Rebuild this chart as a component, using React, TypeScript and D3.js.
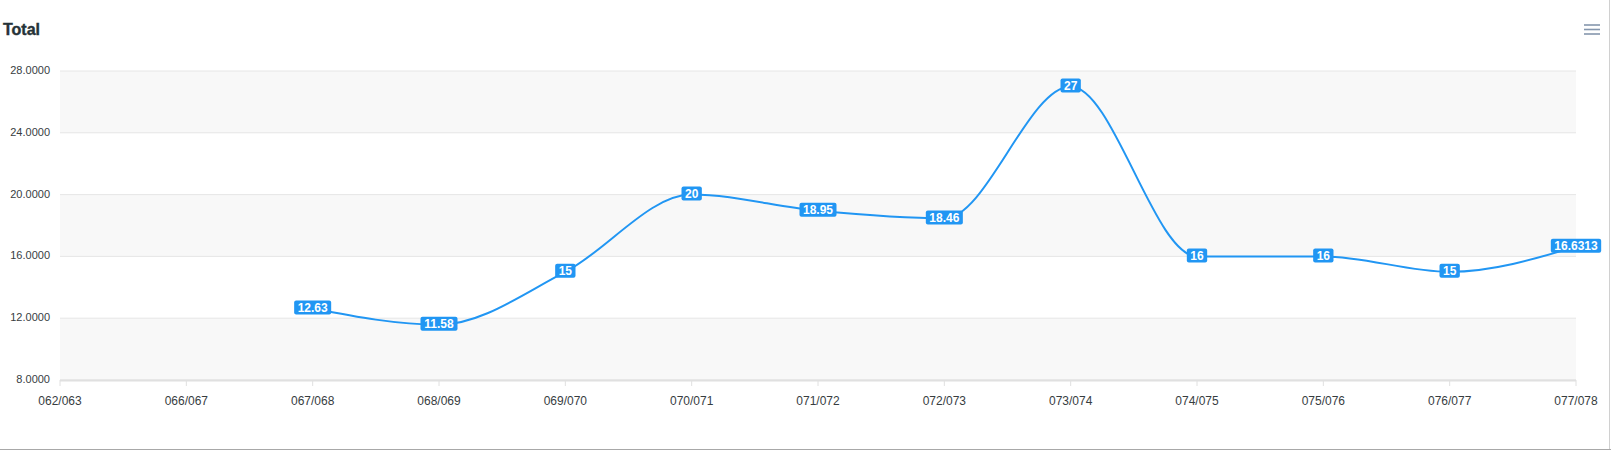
import React from "react";
import * as d3 from "d3";

const categories = ["062/063","066/067","067/068","068/069","069/070","070/071","071/072","072/073","073/074","074/075","075/076","076/077","077/078"];
const values: (number | null)[] = [null, null, 12.63, 11.58, 15, 20, 18.95, 18.46, 27, 16, 16, 15, 16.6313];
const labels = ["", "", "12.63", "11.58", "15", "20", "18.95", "18.46", "27", "16", "16", "15", "16.6313"];
const yTicks = [8, 12, 16, 20, 24, 28];
const title = "Total";

const W = 1611, H = 450;
const left = 60, right = 1576, top = 71, bottom = 380;
const blue = "#2196F3";
const font = "'Liberation Sans', Arial, Helvetica, sans-serif";

function textWidth(t: string, size: number) {
  let w = 0;
  for (const c of t) w += c === "." ? 0.278 : 0.556;
  return w * size;
}

export default function App() {
  const x = d3.scalePoint<string>().domain(categories).range([left, right]);
  const y = d3.scaleLinear().domain([8, 28]).range([bottom, top]);
  const pts = categories.map((c, i) => ({ c, v: values[i], l: labels[i] }));
  const line = d3.line<any>()
    .defined((d) => d.v !== null)
    .x((d) => x(d.c)!)
    .y((d) => y(d.v))
    .curve(d3.curveMonotoneX);
  const bands = [] as JSX.Element[];
  for (let i = 0; i < yTicks.length - 1; i++) {
    const lo = yTicks[i], hi = yTicks[i + 1];
    const idxFromTop = yTicks.length - 2 - i;
    if (idxFromTop % 2 === 0) {
      bands.push(<rect key={"b" + i} x={left} y={y(hi)} width={right - left} height={y(lo) - y(hi)} fill="#f8f8f8" />);
    }
  }
  return (
    <div style={{ position: "absolute", left: 0, top: 0 }}>
      <svg width={W} height={H} style={{ display: "block", fontFamily: font }}>
        <rect x={0} y={0} width={W} height={H} fill="#fff" />
        <text x={3} y={35} fontSize={16} fontWeight="bold" fill="#263238" stroke="#263238" strokeWidth={0.4}>{title}</text>
        {bands}
        {yTicks.map((t) => (
          <g key={t}>
            <line x1={left} x2={right} y1={y(t)} y2={y(t)} stroke="#e6e6e6" strokeWidth={1} />
            <text x={50} y={y(t) + 3} fontSize={11} textAnchor="end" fill="#373d3f">{t.toFixed(4)}</text>
          </g>
        ))}
        <line x1={left} x2={right} y1={bottom + 0.5} y2={bottom + 0.5} stroke="#e0e0e0" strokeWidth={2} />
        {categories.map((c) => (
          <g key={c}>
            <line x1={x(c)!} x2={x(c)!} y1={bottom} y2={bottom + 6} stroke="#e0e0e0" strokeWidth={1} />
            <text x={x(c)!} y={405} fontSize={12} textAnchor="middle" fill="#373d3f">{c}</text>
          </g>
        ))}
        <path d={line(pts) || ""} fill="none" stroke={blue} strokeWidth={2} />
        {pts.filter((p) => p.v !== null).map((p) => {
          const cx = x(p.c)!, cy = y(p.v as number);
          const tw = textWidth(p.l, 12);
          const bw = tw + 7, bh = 14;
          return (
            <g key={"l" + p.c}>
              <rect x={cx - bw / 2} y={cy - bh / 2 - 1} width={bw} height={bh} rx={2} fill={blue} />
              <text x={cx} y={cy + 3.5} fontSize={12} fontWeight="bold" textAnchor="middle" fill="#fff">{p.l}</text>
            </g>
          );
        })}
        {[25, 29.5, 34].map((yy) => (
          <line key={yy} x1={1584} x2={1600} y1={yy} y2={yy} stroke="#8496ad" strokeWidth={1.6} />
        ))}
        <line x1={1609.5} x2={1609.5} y1={0} y2={H} stroke="#d0d0d0" strokeWidth={1} />
        <line x1={0} x2={W} y1={449.5} y2={449.5} stroke="#a8a8a8" strokeWidth={1} />
      </svg>
    </div>
  );
}
